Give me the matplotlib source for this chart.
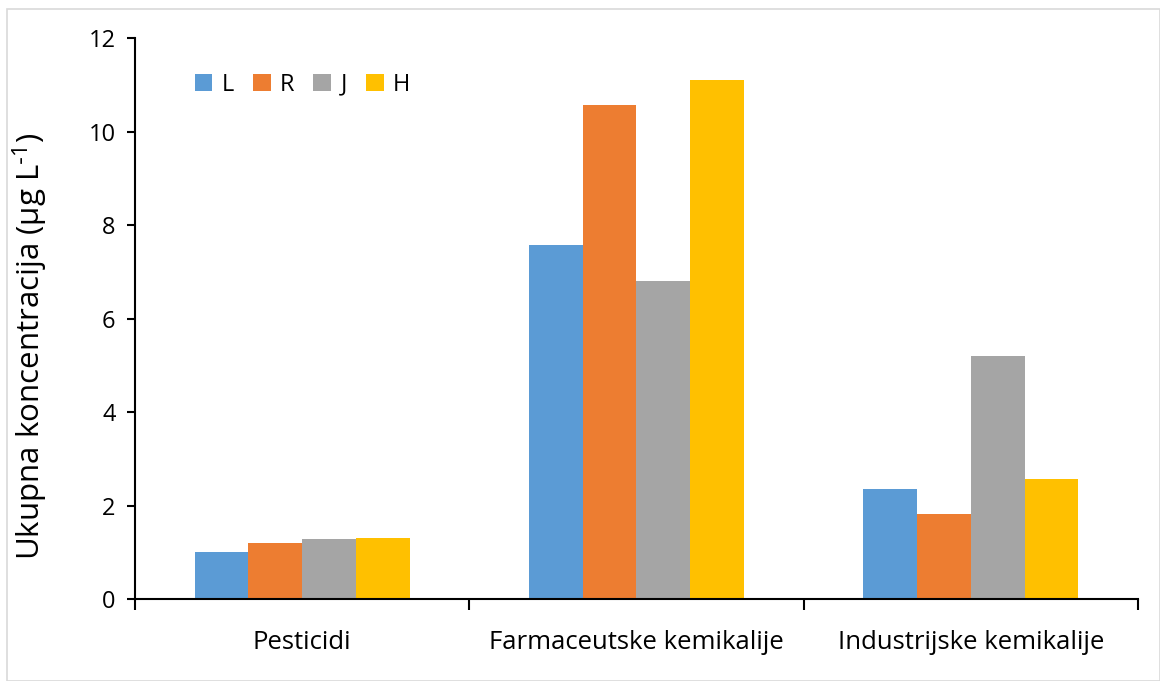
import numpy as np
import matplotlib.pyplot as plt
from matplotlib.patches import Rectangle

plt.rcParams['font.family'] = ['Open Sans', 'DejaVu Sans']
plt.rcParams['mathtext.default'] = 'regular'

categories = ['Pesticidi', 'Farmaceutske kemikalije', 'Industrijske kemikalije']
series = ['L', 'R', 'J', 'H']
L = [1.00, 7.58, 2.35]
R = [1.20, 10.57, 1.81]
J = [1.28, 6.80, 5.20]
H = [1.30, 11.10, 2.57]
colors = ['#5B9BD5', '#ED7D31', '#A5A5A5', '#FFC000']

fig = plt.figure(figsize=(11.6, 6.81), dpi=100)
fig.patches.append(Rectangle((0.006, 0.0), 0.994, 0.987, transform=fig.transFigure,
                             fill=False, edgecolor='#d9d9d9', linewidth=1.2))
ax = fig.add_axes([0.1164, 0.1204, 0.8646, 0.8236])

x = np.arange(len(categories))
w = 0.161
for i, (name, vals) in enumerate(zip(series, [L, R, J, H])):
    ax.bar(x + (i - 1.5) * w, vals, w, color=colors[i], label=name)

ax.set_xlim(-0.5, 2.5)
ax.set_ylim(0, 12)
ax.set_yticks(range(0, 13, 2))
ax.set_xticks(x)
ax.set_xticklabels(categories, fontsize=18.5)
ax.set_xticks([-0.5, 0.5, 1.5, 2.5], minor=True)
ax.tick_params(axis='x', which='major', length=0, pad=22)
ax.tick_params(axis='x', which='minor', length=8, width=1.5, direction='out')
ax.tick_params(axis='y', labelsize=17, length=6, width=1.5, pad=8)
ax.spines['top'].set_visible(False)
ax.spines['right'].set_visible(False)
ax.spines['left'].set_linewidth(1.5)
ax.spines['bottom'].set_linewidth(1.5)
ax.set_ylabel('Ukupna koncentracija (μg L$^{\\text{-}1}$)', fontsize=22.5)
ax.yaxis.set_label_coords(-0.085, 0.45)

ax.legend(loc='upper left', bbox_to_anchor=(0.05, 0.955), ncol=4, frameon=False,
          fontsize=17, handlelength=0.75, handleheight=0.75, handletextpad=0.4,
          columnspacing=0.8, borderaxespad=0)

fig.savefig('out.png', dpi=100)
